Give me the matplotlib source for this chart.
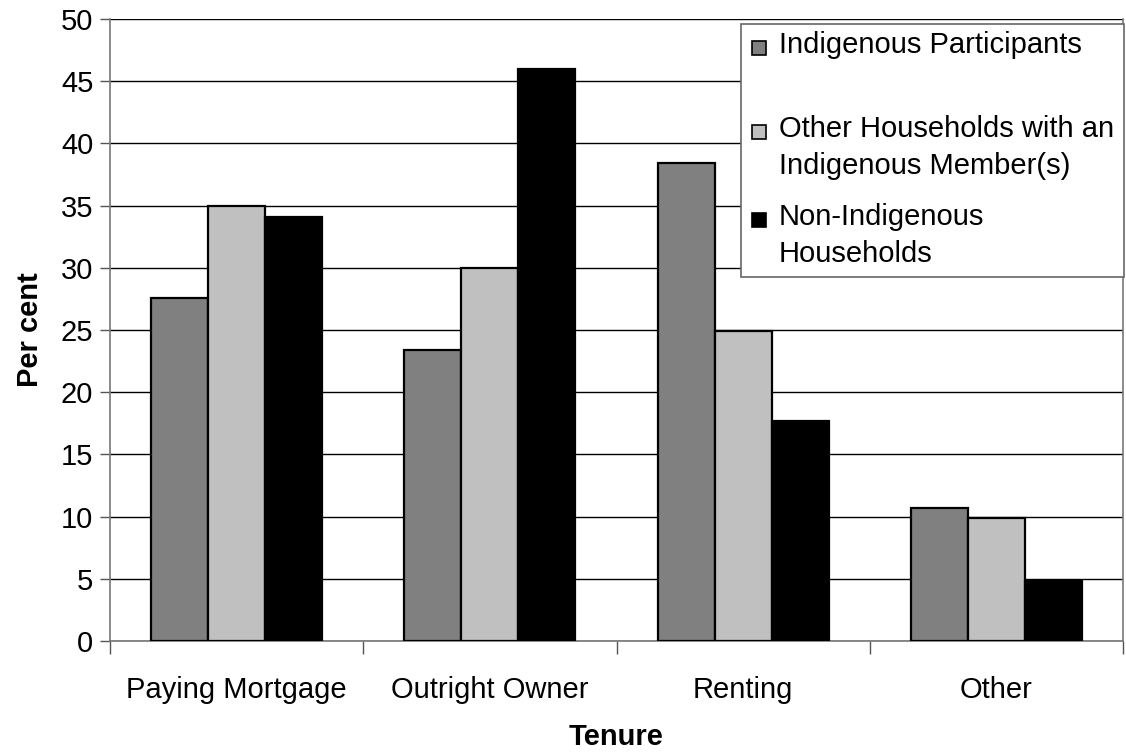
import numpy as np
import matplotlib
matplotlib.use('Agg')
import matplotlib.pyplot as plt
from matplotlib.patches import Rectangle

plt.rcParams['font.family'] = ['Liberation Sans', 'DejaVu Sans']

# tenure categories and share (per cent) for each household group
tenure = ['Paying Mortgage', 'Outright Owner', 'Renting', 'Other']
indigenous = [27.6, 23.4, 38.4, 10.7]
other_hh = [35.0, 30.0, 24.9, 9.9]
non_indigenous = [34.1, 46.0, 17.7, 4.8]

series_labels = ['Indigenous Participants',
                 'Other Households with an\nIndigenous Member(s)',
                 'Non-Indigenous\nHouseholds']
colours = ['#808080', '#c0c0c0', '#000000']

W, H = 1126, 754
FS = 21
fig = plt.figure(figsize=(W / 100, H / 100), dpi=100)
ax = fig.add_axes([110 / W, 1 - 641 / H, (1123 - 110) / W, (641 - 19) / H])


def px(x, y):
    return x / W, 1 - y / H


x = np.arange(len(tenure))
bw = 0.225
for i, (vals, c) in enumerate(zip([indigenous, other_hh, non_indigenous], colours)):
    ax.bar(x + (i - 1) * bw, vals, bw, color=c, edgecolor='black',
           linewidth=1.6, zorder=3)

ax.set_xlim(-0.5, 3.5)
ax.set_ylim(0, 50)
ax.set_yticks(np.arange(0, 51, 5))
ax.yaxis.grid(True, color='black', linewidth=1.0, zorder=0)
ax.tick_params(axis='y', labelsize=FS, length=7, width=1, color='#555555', pad=5)

# boundary ticks between categories, labels on the minor ticks at centres
ax.set_xticks(np.arange(-0.5, 3.6, 1.0))
ax.set_xticklabels([])
ax.set_xticks(x, minor=True)
ax.set_xticklabels(tenure, minor=True)
ax.tick_params(axis='x', which='major', length=9, width=1, color='#555555')
ax.tick_params(axis='x', which='minor', length=0, labelsize=FS, pad=25)

for s in ax.spines.values():
    s.set_color('#777777')
    s.set_linewidth(1.2)
ax.spines['top'].set_visible(False)

ax.set_ylabel('Per cent', fontsize=FS, fontweight='bold', labelpad=12)
ax.set_xlabel('Tenure', fontsize=FS, fontweight='bold', labelpad=14)

# legend box drawn by hand
x0, y0 = px(741, 277)
x1, y1 = px(1124, 24)
fig.patches.append(Rectangle((x0, y0), x1 - x0, y1 - y0, transform=fig.transFigure,
                             facecolor='white', edgecolor='#666666', linewidth=1.2,
                             zorder=5))
marker_y = [48, 132, 220]
for lab, c, my in zip(series_labels, colours, marker_y):
    mx, myf = px(752, my + 7)
    fig.patches.append(Rectangle((mx, myf), 14 / W, 14 / H, transform=fig.transFigure,
                                 facecolor=c, edgecolor='black', linewidth=1.2,
                                 zorder=6))
    tx, ty = px(779, my - 17)
    fig.text(tx, ty, lab, fontsize=FS, va='top', ha='left', linespacing=1.4,
             zorder=7)

fig.savefig('out.png', dpi=100)
